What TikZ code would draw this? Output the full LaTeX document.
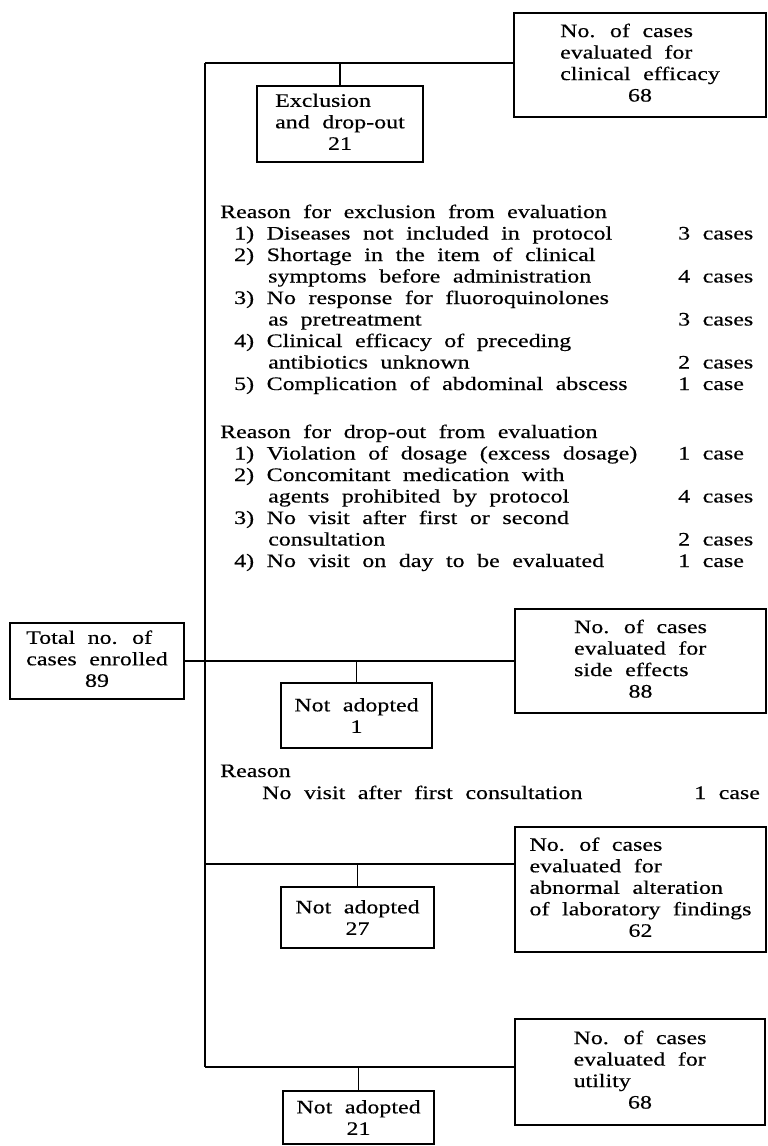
\documentclass[tikz,border=0pt]{standalone}
\usepackage{fontspec}
\setmainfont{Liberation Serif}[FakeStretch=1.26,WordSpace=2.1,FakeBold=0.4]

\tikzset{
  casebox/.style={draw, line width=1.8pt, inner sep=0pt},
  lbl/.style={anchor=base west, inner sep=0pt},
}
\newcommand{\boxlines}[2]{\begin{tabular}{@{}l@{}}#1\\\multicolumn{1}{@{}c@{}}{#2}\end{tabular}}

\begin{document}
\begin{tikzpicture}[x=1pt, y=-1pt, every node/.style={font=\fontsize{19}{21.5}\selectfont}]
	\useasboundingbox (0,0) rectangle (768,1146);
	% boxes
	\node[casebox, minimum width=252, minimum height=104] (clin) at (640,65) {\boxlines{No. of cases\\evaluated for\\clinical efficacy}{68}};
	\node[casebox, minimum width=166, minimum height=76] (excl) at (340,124) {\boxlines{Exclusion\\and drop-out}{21}};
	\node[casebox, minimum width=174, minimum height=76] (total) at (97,661) {\boxlines{Total no. of\\cases enrolled}{89}};
	\node[casebox, minimum width=251, minimum height=104] (side) at (640.5,661) {\boxlines{No. of cases\\evaluated for\\side effects}{88}};
	\node[casebox, minimum width=151, minimum height=65, align=center] (na1) at (356.5,715.5) {Not adopted\\1};
	\node[casebox, minimum width=251, minimum height=125] (lab) at (640.5,889.5) {\boxlines{No. of cases\\evaluated for\\abnormal alteration\\of laboratory findings}{62}};
	\node[casebox, minimum width=153, minimum height=61, align=center] (na27) at (357.5,917.5) {Not adopted\\27};
	\node[casebox, minimum width=250, minimum height=106] (util) at (640,1072) {\boxlines{No. of cases\\evaluated for\\utility}{68}};
	\node[casebox, minimum width=151, minimum height=53, align=center] (na21) at (358.5,1117.5) {Not adopted\\21};
	% trunk and branches
	\coordinate (top) at (205,63);
	\coordinate (b3) at (205,864);
	\coordinate (bot) at (205,1067);
	\begin{scope}[line width=1.8pt]
		\draw (top) -- (bot);
		\draw (top) -- (top -| clin.west);
		\draw (excl.north) -- (excl.north |- top);
		\draw (total.east) -- (total.east -| side.west);
		\draw (na1.north) -- (na1.north |- total.east);
		\draw (b3) -- (b3 -| lab.west);
		\draw (na27.north) -- (na27.north |- b3);
		\draw (bot) -- (bot -| util.west);
		\draw (na21.north) -- (na21.north |- bot);
	\end{scope}
	% reasons for exclusion
	\foreach \xx/\txt [count=\k from 0] in {
		220/Reason for exclusion from evaluation,
		234/1) Diseases not included in protocol,
		234/2) Shortage in the item of clinical,
		268/symptoms before administration,
		234/3) No response for fluoroquinolones,
		268/as pretreatment,
		234/4) Clinical efficacy of preceding,
		268/antibiotics unknown,
		234/5) Complication of abdominal abscess}
		\node[lbl] (ex\k) at (\xx,218+21.5*\k) {\txt};
	% reasons for drop-out
	\foreach \xx/\txt [count=\k from 0] in {
		220/Reason for drop-out from evaluation,
		234/1) Violation of dosage (excess dosage),
		234/2) Concomitant medication with,
		268/agents prohibited by protocol,
		234/3) No visit after first or second,
		268/consultation,
		234/4) No visit on day to be evaluated}
		\node[lbl] (do\k) at (\xx,438+21.5*\k) {\txt};
	% numbers of cases
	\foreach \r/\n in {ex1/3 cases, ex3/4 cases, ex5/3 cases, ex7/2 cases, ex8/1 case,
		do1/1 case, do3/4 cases, do5/2 cases, do6/1 case}
		\node[lbl] (n-\r) at (678,0 |- \r.base) {\n};
	% reason for not adopted
	\node[lbl] (rs) at (220,777) {Reason};
	\node[lbl] (rs1) at (262,799) {No visit after first consultation};
	\node[lbl] (rsn) at (694,799) {1 case};
\end{tikzpicture}
\end{document}
